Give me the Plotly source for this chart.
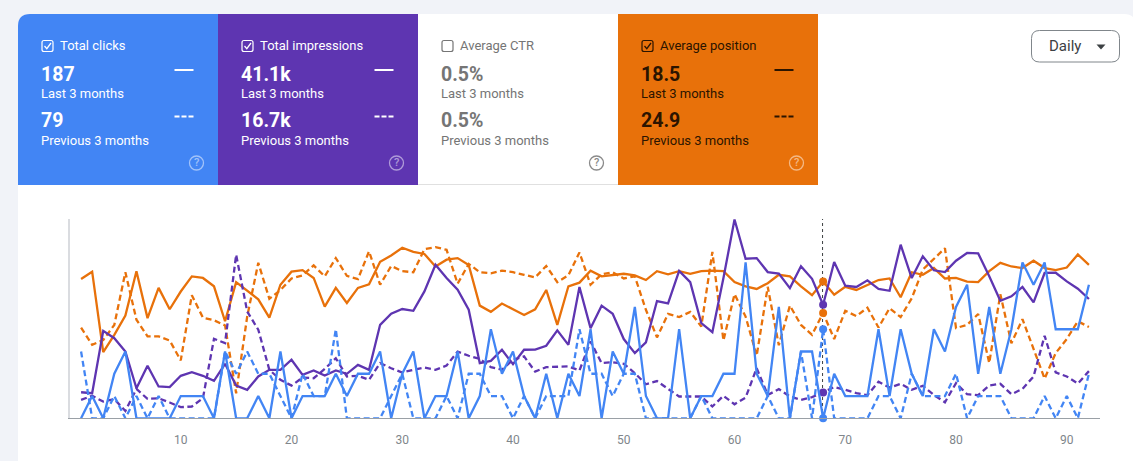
import plotly.graph_objects as go

W = 1133
H = 461

days = list(range(1, 93))
hover_day = 68

clicks = [0, 1, 0, 2, 3, 0, 0, 0, 0, 1, 1, 1, 0, 3, 0, 0, 1, 0, 3, 0,
          1, 1, 1, 2, 1, 2, 2, 3, 0, 2, 3, 0, 1, 1, 3, 0, 1, 4, 2, 3,
          1, 0, 2, 0, 2, 1, 4, 0, 3, 2, 5, 1, 0, 0, 4, 0, 1, 1, 2, 2,
          7, 2, 1, 5, 0, 3, 3, 0, 2, 1, 1, 1, 4, 1, 4, 2, 1, 4, 3, 5,
          6, 2, 5, 2, 4, 7, 6, 7, 4, 4, 4, 6]
clicks_prev = [3, 0, 0, 1, 0, 1, 0, 1, 0, 0, 0, 0, 0, 3, 2, 3, 2, 2, 1, 0,
               2, 1, 1, 4, 0, 0, 0, 0, 1, 2, 0, 0, 0, 1, 0, 2, 2, 1, 1, 0,
               1, 0, 1, 1, 1, 4, 2, 2, 1, 2, 2, 0, 0, 0, 0, 0, 1, 0, 0, 0,
               0, 0, 1, 0, 0, 3, 0, 4, 0, 0, 0, 0, 1, 1, 0, 2, 1, 1, 1, 2,
               0, 1, 1, 1, 0, 0, 0, 1, 0, 1, 0, 2]
impressions = [117, 113, 393, 360, 300, 135, 236, 143, 140, 191,
               207, 191, 168, 245, 147, 128, 188, 218, 218, 263,
               195, 215, 192, 215, 200, 240, 218, 420, 470, 491,
               483, 570, 690, 630, 578, 488, 248, 258, 308, 243,
               308, 309, 326, 395, 330, 590, 405, 506, 470, 356,
               293, 341, 527, 516, 662, 612, 428, 387, 630, 893,
               717, 720, 657, 650, 585, 683, 627, 510, 702, 596,
               590, 620, 581, 573, 780, 630, 728, 665, 657, 708,
               743, 741, 638, 528, 548, 590, 521, 653, 654, 615, 582, 536]
impressions_prev = [83, 101, 75, 86, 33, 132, 87, 90, 71, 50,
                    53, 90, 357, 338, 735, 480, 398, 218, 173, 147,
                    183, 180, 222, 270, 188, 191, 173, 248, 225, 206,
                    218, 228, 218, 237, 300, 281, 267, 230, 218, 263,
                    278, 210, 230, 230, 233, 215, 345, 248, 252, 245,
                    203, 153, 167, 132, 98, 98, 98, 53, 101, 63,
                    93, 225, 105, 131, 98, 83, 95, 116, 141, 128,
                    113, 104, 164, 138, 155, 128, 146, 105, 72, 158,
                    108, 104, 147, 155, 108, 132, 188, 371, 206, 188, 156, 212]
position = [19.3, 17.9, 33.3, 30.0, 26.3, 17.8, 26.8, 21.0, 25.1, 21.7,
            18.8, 19.1, 20.7, 27.4, 19.9, 21.6, 23.2, 26.7, 20.4, 17.9,
            17.6, 19.1, 24.6, 21.0, 23.9, 21.0, 20.3, 16.0, 14.8, 13.3,
            14.1, 14.5, 16.9, 15.6, 15.3, 16.6, 24.4, 25.6, 24.0, 25.1,
            26.2, 25.1, 21.4, 28.1, 20.7, 20.0, 17.7, 18.8, 18.6, 18.3,
            18.6, 19.5, 17.8, 18.4, 17.8, 18.3, 17.8, 17.7, 17.8, 19.9,
            20.7, 21.2, 20.1, 18.5, 18.8, 20.7, 22.4, 19.8, 22.3, 20.8,
            21.4, 20.5, 19.5, 19.2, 22.8, 18.0, 18.5, 17.2, 19.2, 19.1,
            19.8, 19.9, 17.8, 16.2, 16.9, 17.2, 15.8, 17.2, 17.6, 17.1, 14.6, 16.6]
position_prev = [28.6, 31.9, 31.0, 28.1, 18.0, 27.1, 30.3, 30.3, 31.1, 34.9,
                 22.4, 26.7, 27.2, 28.2, 41.2, 26.5, 16.2, 23.1, 21.4, 19.2,
                 18.6, 16.7, 18.8, 15.3, 18.7, 19.3, 14.0, 20.4, 16.8, 17.8,
                 18.0, 13.6, 13.2, 13.7, 20.2, 16.4, 18.0, 18.2, 17.7, 18.0,
                 18.5, 19.0, 16.8, 19.9, 18.6, 14.2, 20.4, 18.4, 18.0, 19.2,
                 18.8, 25.2, 30.5, 26.0, 26.6, 25.6, 28.4, 14.1, 31.1, 22.2,
                 26.5, 34.0, 20.8, 32.0, 24.4, 28.1, 30.0, 25.8, 30.8, 25.4,
                 26.4, 24.8, 28.6, 24.9, 26.6, 23.0, 17.5, 15.5, 13.4, 28.7,
                 28.1, 26.0, 35.4, 22.2, 31.6, 27.0, 32.9, 38.4, 33.5, 30.8, 27.4, 28.5]

tick_days = [10, 20, 30, 40, 50, 60, 70, 80, 90]

card_titles = ["Total clicks", "Total impressions", "Average CTR", "Average position"]
card_last = ["187", "41.1k", "0.5%", "18.5"]
card_prev = ["79", "16.7k", "0.5%", "24.9"]
card_fills = ["#4285f4", "#5e35b1", "#ffffff", "#e8710a"]
card_text = ["#ffffff", "#ffffff", "#757575", "#2b1400"]
card_on = [True, True, False, True]

BLUE = "#4285f4"
PURPLE = "#5e35b1"
ORANGE = "#e8710a"
PAGE = "#f1f3f8"


# everything outside the plot is laid out in screen pixels
def px(x):
    return x / W


def py(y):
    return 1 - y / H


def rounded_box(x0, y0, x1, y1, r):
    return (f"M {px(x0 + r)} {py(y0)} L {px(x1 - r)} {py(y0)} "
            f"Q {px(x1)} {py(y0)} {px(x1)} {py(y0 + r)} L {px(x1)} {py(y1 - r)} "
            f"Q {px(x1)} {py(y1)} {px(x1 - r)} {py(y1)} L {px(x0 + r)} {py(y1)} "
            f"Q {px(x0)} {py(y1)} {px(x0)} {py(y1 - r)} L {px(x0)} {py(y0 + r)} "
            f"Q {px(x0)} {py(y0)} {px(x0 + r)} {py(y0)} Z")


def add_series(fig, y, color, dash, axis):
    sizes = [8 if d == hover_day else 0 for d in days]
    fig.add_trace(go.Scatter(
        x=days, y=y, yaxis=axis, mode="lines+markers", cliponaxis=False,
        line=dict(color=color, width=2.3, dash=dash),
        marker=dict(color=color, size=sizes, opacity=1, line=dict(width=0)),
        showlegend=False, hoverinfo="skip",
    ))


fig = go.Figure()

dashes = "6px,3.5px"
add_series(fig, position, ORANGE, "solid", "y")
add_series(fig, position_prev, ORANGE, dashes, "y")
add_series(fig, impressions, PURPLE, "solid", "y2")
add_series(fig, impressions_prev, PURPLE, dashes, "y2")
add_series(fig, clicks_prev, BLUE, dashes, "y3")
add_series(fig, clicks, BLUE, "solid", "y3")

shapes = []
notes = []


def label(x, y, text, size, color, weight=400, anchor="left"):
    notes.append(dict(
        x=px(x), y=py(y), xref="paper", yref="paper", text=text, showarrow=False,
        xanchor=anchor, yanchor="middle", borderpad=0, borderwidth=0,
        font=dict(family="Roboto", size=size, color=color, weight=weight),
    ))


# page background and the white panel
shapes.append(dict(type="rect", xref="paper", yref="paper", x0=0, x1=1, y0=0, y1=1,
                   fillcolor=PAGE, line_width=0, layer="below"))
shapes.append(dict(type="path", xref="paper", yref="paper", path=rounded_box(18, 14, 1136, 480, 12),
                   fillcolor="#ffffff", line_width=0, layer="below"))
shapes.append(dict(type="line", xref="paper", yref="paper", x0=px(418), x1=px(618), y0=py(184.5), y1=py(184.5),
                   line=dict(color="#e0e0e0", width=1), layer="below"))

for i, title in enumerate(card_titles):
    left = 18 + 200 * i
    color = card_text[i]
    if card_fills[i] != "#ffffff":
        if i == 0:
            path = (f"M {px(left)} {py(185)} L {px(left)} {py(26)} Q {px(left)} {py(14)} {px(left + 12)} {py(14)} "
                    f"L {px(left + 200)} {py(14)} L {px(left + 200)} {py(185)} Z")
        else:
            path = (f"M {px(left)} {py(185)} L {px(left)} {py(14)} L {px(left + 200)} {py(14)} "
                    f"L {px(left + 200)} {py(185)} Z")
        shapes.append(dict(type="path", xref="paper", yref="paper", path=path,
                           fillcolor=card_fills[i], line_width=0, layer="below"))

    # checkbox
    shapes.append(dict(type="path", xref="paper", yref="paper",
                       path=rounded_box(left + 24, 40.5, left + 35, 51.5, 2),
                       line=dict(color=color, width=1.2), layer="above"))
    if card_on[i]:
        shapes.append(dict(type="path", xref="paper", yref="paper",
                           path=(f"M {px(left + 26.5)} {py(46)} L {px(left + 28.8)} {py(48.6)} "
                                 f"L {px(left + 33)} {py(43)}"),
                           line=dict(color=color, width=1.3), layer="above"))

    label(left + 42, 45.5, title, 13, color)
    label(left + 23, 74, card_last[i], 19.5, color, 700)
    label(left + 23, 93.5, "Last 3 months", 13, color)
    label(left + 23, 120.5, card_prev[i], 19.5, color, 700)
    label(left + 23, 140.5, "Previous 3 months", 13, color)

    # legend samples next to the two numbers
    if card_on[i]:
        key_x = left + 156.5
        shapes.append(dict(type="line", xref="paper", yref="paper",
                           x0=px(key_x), x1=px(key_x + 19), y0=py(70), y1=py(70),
                           line=dict(color=color, width=2), layer="above"))
        shapes.append(dict(type="line", xref="paper", yref="paper",
                           x0=px(key_x), x1=px(key_x + 19), y0=py(116.5), y1=py(116.5),
                           line=dict(color=color, width=2, dash="5px,2px"), layer="above"))

    # help icon
    help_color = "rgba(255,255,255,0.5)" if card_on[i] else "#8a8a8a"
    shapes.append(dict(type="circle", xref="paper", yref="paper",
                       x0=px(left + 171.5), x1=px(left + 185.5), y0=py(156), y1=py(170),
                       line=dict(color=help_color, width=1.3), layer="above"))
    label(left + 178.5, 163, "?", 11, help_color, 500, "center")

# Daily dropdown
shapes.append(dict(type="path", xref="paper", yref="paper", path=rounded_box(1031.5, 30.5, 1119.5, 62, 8),
                   line=dict(color="#80868b", width=1), fillcolor="#ffffff", layer="below"))
label(1048.5, 46, "Daily", 15, "#3c4043", 400)
shapes.append(dict(type="path", xref="paper", yref="paper",
                   path=f"M {px(1096.5)} {py(44.5)} L {px(1105.5)} {py(44.5)} L {px(1101)} {py(49.5)} Z",
                   fillcolor="#3c4043", line_width=0, layer="above"))

# hover guide at the marked day
shapes.append(dict(type="line", xref="x", yref="paper", x0=hover_day - 0.05, x1=hover_day - 0.05,
                   y0=py(418), y1=py(219), line=dict(color="#3c4043", width=1, dash="dot"), layer="below"))

plot_top = 219
plot_bottom = 418.3

fig.update_layout(
    width=W,
    height=H,
    margin=dict(l=0, r=0, t=0, b=0),
    paper_bgcolor="#ffffff",
    plot_bgcolor="rgba(0,0,0,0)",
    shapes=shapes,
    annotations=notes,
    hovermode=False,
    xaxis=dict(
        domain=[px(70), px(1100)], range=[0, 93], tickvals=tick_days, showgrid=False, zeroline=False,
        showline=True, linecolor="#9aa0a6", linewidth=1, ticks="outside", ticklen=10, tickcolor="rgba(0,0,0,0)",
        tickfont=dict(family="Roboto", size=12, color="#80868b"), anchor="y",
    ),
    yaxis=dict(
        domain=[py(plot_bottom), py(plot_top)], range=[46, 7.8], showticklabels=False, ticks="", showgrid=False,
        zeroline=False, showline=True, linecolor="#dadce0", linewidth=2,
    ),
    yaxis2=dict(domain=[py(plot_bottom), py(plot_top)], overlaying="y", range=[0, 895.5], visible=False),
    yaxis3=dict(domain=[py(plot_bottom), py(plot_top)], overlaying="y", range=[0, 8.95], visible=False),
)

fig.write_html("out.html", config=dict(displayModeBar=False), post_script="document.body.style.margin='0';")
